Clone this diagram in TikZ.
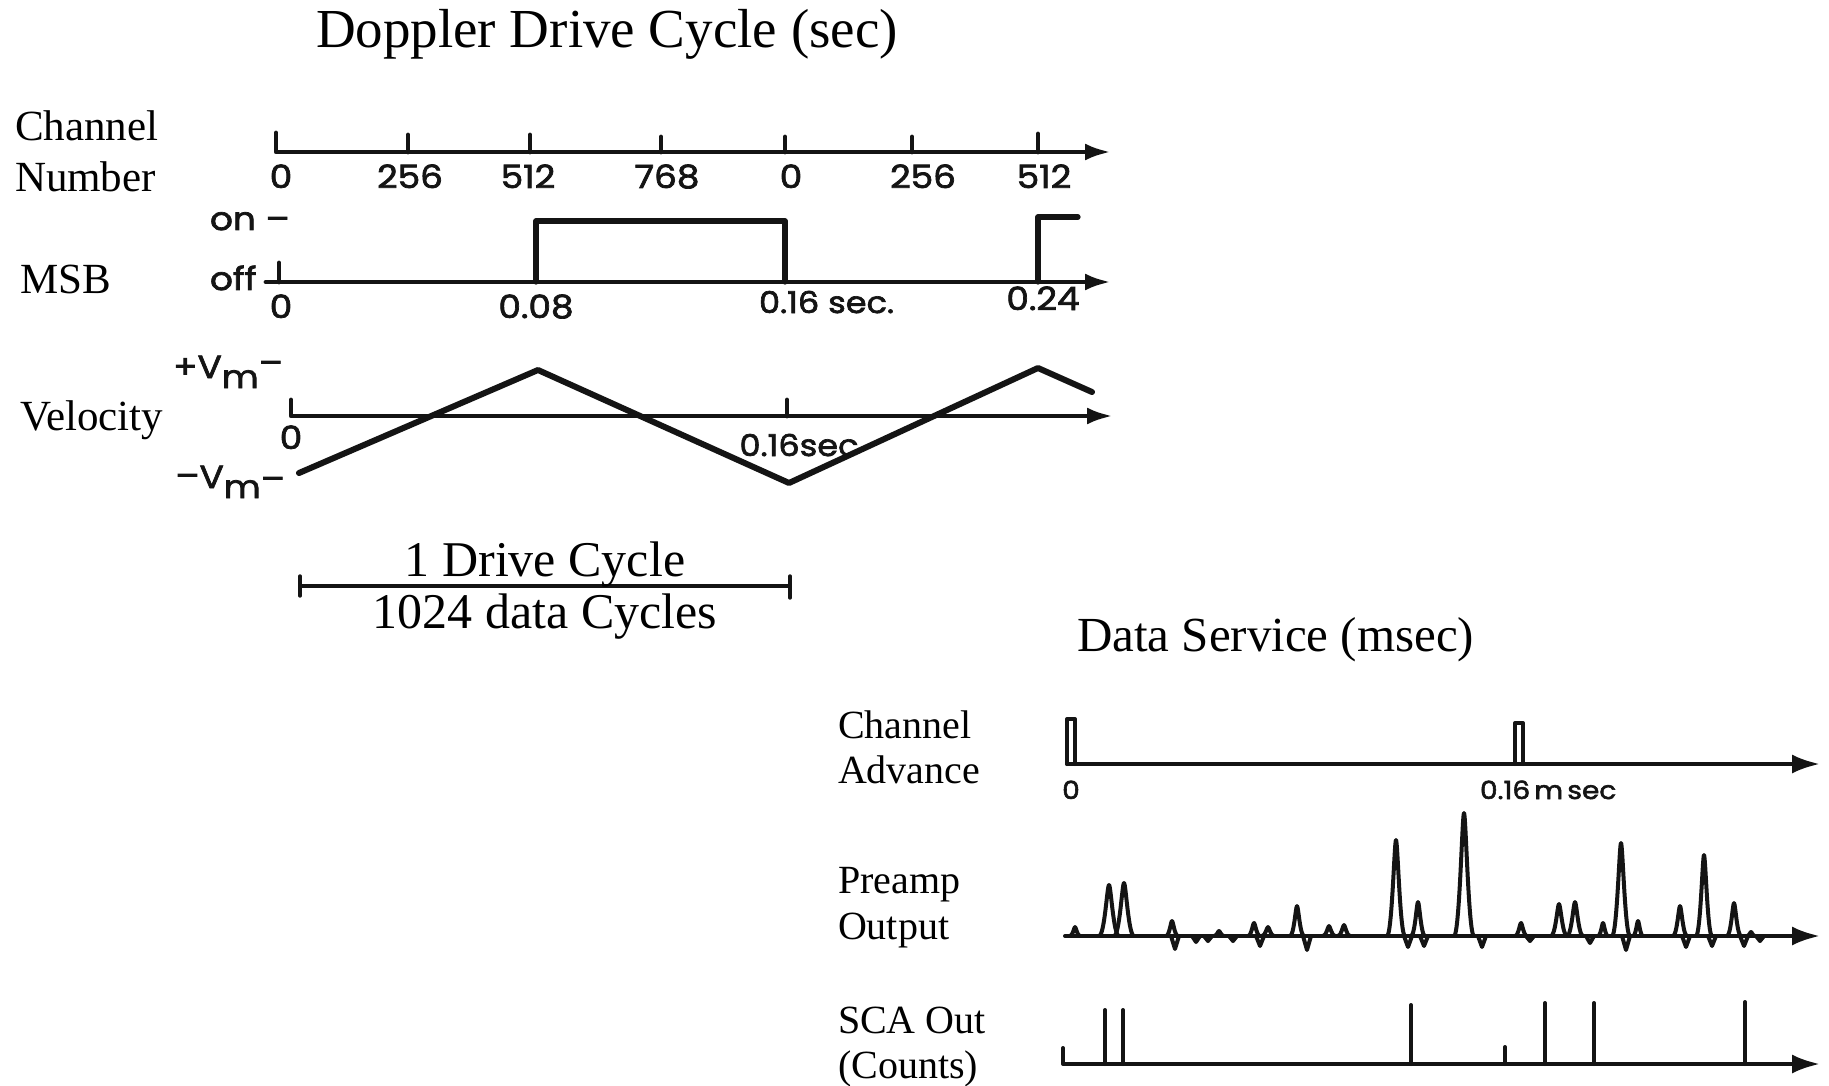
\documentclass[tikz,border=0pt]{standalone}
\usepackage{fontspec}
\setmainfont{Liberation Serif}
\newfontfamily\lettering{Poppins}[FakeBold=2.2, FakeStretch=1.12]
\usetikzlibrary{arrows.meta}
\definecolor{inkc}{HTML}{141414}
\tikzset{
  ink/.style={draw=inkc, line width=4.8pt, line cap=round, line join=round},
  thinink/.style={draw=inkc, line width=4pt, line cap=round, line join=round},
  bigarrow/.style={-{Latex[length=26pt,width=17pt]}},
  smallarrow/.style={-{Latex[length=28pt,width=19pt]}},
  txt/.style={inner sep=0pt, outer sep=0pt, text=black},
  title/.style={txt, font=\fontsize{55}{60}\selectfont},
  sidelabel/.style={txt, font=\fontsize{43}{50}\selectfont},
  rowlabel/.style={txt, font=\fontsize{40}{45}\selectfont},
  lett/.style={txt, font=\lettering\fontsize{32}{34}\selectfont, text=inkc},
  seclett/.style={txt, font=\lettering\fontsize{30}{34}\selectfont, text=inkc},
  smalllett/.style={txt, font=\lettering\fontsize{25}{28}\selectfont, text=inkc},
}
\begin{document}
\begin{tikzpicture}[x=1pt,y=-1pt]
\fill[white] (0,0) rectangle (1829,1086);
\useasboundingbox (0,0) rectangle (1829,1086);

% ---------------- Doppler drive cycle ----------------
\node[title, anchor=base west] (ttop) at (316,48) {Doppler Drive Cycle (sec)};

% channel number axis
\node[sidelabel, anchor=base west] (lchan) at (15,141) {Channel};
\node[sidelabel, anchor=base west] (lnum) at (15,192) {Number};
\coordinate (chS) at (276,133);
\coordinate (chO) at (276,152);
\coordinate (chE) at (1111,152);
\draw[ink, bigarrow] (chS) -- (chO) -- (chE);
\foreach \x/\t in {408/135, 530/135, 661/137, 785/137, 912/137, 1038/134}
  \draw[ink] (\x,152) -- (\x,\t);
\foreach \x/\t [count=\i] in {281/0, 410/256, 528/512, 667/768, 791/0, 923/256, 1044/512}
  \node[lett, anchor=base] (cn\i) at (\x,188) {\t};

% MSB
\node[sidelabel, anchor=base west] (lmsb) at (20,294) {MSB};
\node[lett, anchor=base west] (lon) at (210,230) {on –};
\node[lett, anchor=base west] (loff) at (210,290) {off};
\coordinate (msS) at (266,282);
\coordinate (msE) at (1111,282);
\draw[ink, bigarrow] (msS) -- (msE);
\draw[ink] (279,282) -- (279,263);
\draw[ink, line width=5.2pt] (536,282) -- (536,221) -- (785,221) -- (785,282);
\draw[ink, line width=5.2pt] (1038,282) -- (1038,217) -- (1078,217);
\node[lett, anchor=base] (m0) at (281,318) {0};
\node[lett, anchor=base] (m1) at (536,318) {0.08};
\node[seclett, anchor=base west] (m2) at (759,313) {0.16 sec.};
\node[lett, anchor=base] (m3) at (1043,310) {0.24};

% velocity
\node[sidelabel, anchor=base west] (lvel) at (20,430) {Velocity};
\node[lett, anchor=base east] (vplus) at (283,378) {+V\raisebox{-10pt}{m}\raisebox{4pt}{–}};
\node[lett, anchor=base east] (vminus) at (285,488) {\raisebox{1pt}{–}V\raisebox{-10pt}{m}\raisebox{-2pt}{–}};
\coordinate (vS) at (291,400);
\coordinate (vO) at (291,416);
\coordinate (vE) at (1113,416);
\draw[ink, bigarrow] (vS) -- (vO) -- (vE);
\draw[ink] (787,416) -- (787,400);
\node[lett, anchor=base] (v0) at (291,449) {0};
\node[seclett, anchor=base] (v1) at (799,456) {0.16sec};
\draw[ink, line width=6pt] (299,473) -- (538,370) -- (789,483) -- (1038,368) -- (1092,392);

% drive cycle span
\coordinate (dA) at (300,586);
\coordinate (dB) at (790,586);
\draw[ink, line width=3.4pt] (dA) -- (dB);
\draw[ink, line width=3.4pt] (300,576) -- (300,596);
\draw[ink, line width=3.4pt] (790,576) -- (790,598);
\node[title, font=\fontsize{50}{55}\selectfont, anchor=base] (dc1) at (545,576) {1 Drive Cycle};
\node[title, font=\fontsize{50}{55}\selectfont, anchor=base] (dc2) at (545,628) {1024 data Cycles};

% ---------------- data service ----------------
\node[title, font=\fontsize{49}{55}\selectfont, anchor=base west] (tbot) at (1077,651) {Data Service (msec)};

% channel advance
\node[rowlabel, anchor=base west] (la1) at (838,738) {Channel};
\node[rowlabel, anchor=base west] (la2) at (838,783) {Advance};
\coordinate (caS) at (1067,764);
\coordinate (caE) at (1820,764);
\draw[thinink, smallarrow] (caS) -- (caE);
\draw[thinink] (1067,764) -- (1067,719) -- (1075,719) -- (1075,764);
\draw[thinink] (1515,764) -- (1515,723) -- (1523,723) -- (1523,764);
\node[smalllett, anchor=base] (ca0) at (1071,799) {0};
\node[smalllett, anchor=base west] (ca1) at (1480,799) {0.16\,m\,sec};

% preamp output
\node[rowlabel, anchor=base west] (lp1) at (838,893) {Preamp};
\node[rowlabel, anchor=base west] (lp2) at (838,939) {Output};
\coordinate (paS) at (1065,936);
\coordinate (paE) at (1820,936);
\draw[thinink, smallarrow] (paS) -- (paE);
\foreach \px/\py/\pw in {1075/927/5, 1109/885/10, 1124/883/10, 1172/921/6, 1219/931/5,
    1254/923/6, 1268/927/6, 1297/906/7, 1329/926/6, 1344/925/6, 1396/840/9,
    1418/902/7, 1464/813/10, 1521/923/6, 1559/904/8, 1575/902/8, 1603/923/5,
    1621/843/9, 1638/921/5, 1680/906/7, 1704/855/8, 1734/903/7, 1751/932/4}
  \draw[thinink] ({\px-\pw},936) .. controls ({\px-0.45*\pw},936) and ({\px-0.18*\pw},\py) ..
     (\px,\py) .. controls ({\px+0.18*\pw},\py) and ({\px+0.45*\pw},936) .. ({\px+\pw},936);
\foreach \dx/\dy in {1175/949, 1196/942, 1208/941, 1233/941, 1260/946, 1307/950,
    1408/947, 1424/946, 1482/947, 1530/941, 1590/943, 1626/950, 1686/947,
    1712/946, 1744/946, 1760/941}
  \draw[thinink] ({\dx-4},936) -- (\dx,\dy) -- ({\dx+4},936);

% SCA out
\node[rowlabel, anchor=base west] (ls1) at (838,1033) {SCA Out};
\node[rowlabel, anchor=base west] (ls2) at (838,1078) {(Counts)};
\coordinate (scS) at (1063,1048);
\coordinate (scO) at (1063,1064);
\coordinate (scE) at (1820,1064);
\draw[thinink, smallarrow] (scS) -- (scO) -- (scE);
\foreach \x/\t in {1105/1010, 1123/1010, 1411/1005, 1505/1047, 1545/1003, 1594/1003, 1745/1002}
  \draw[thinink] (\x,1064) -- (\x,\t);
\end{tikzpicture}
\end{document}
